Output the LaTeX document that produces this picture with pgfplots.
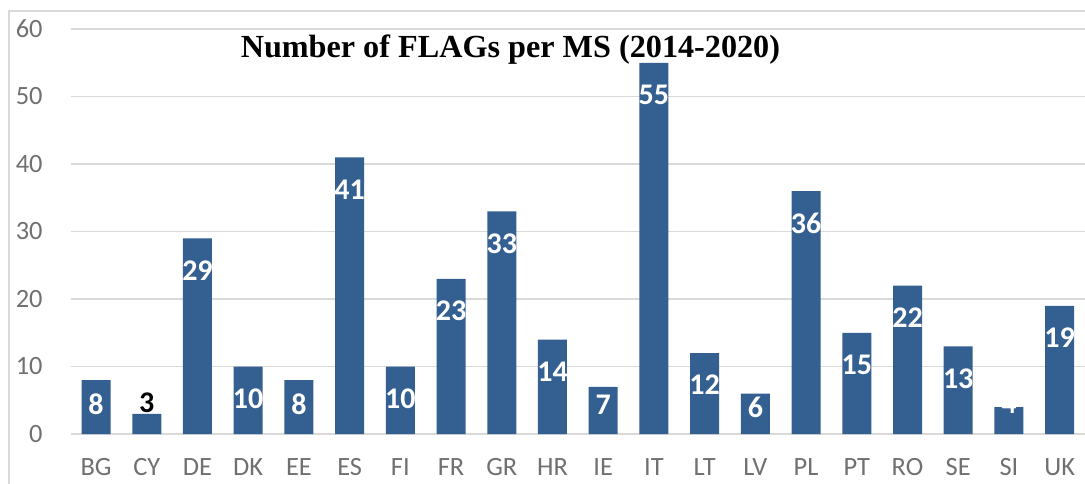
\documentclass[border=0pt]{standalone}
\usepackage{fontspec}
\setmainfont{Carlito}
\newfontfamily\titlefont{Liberation Serif}
\usepackage{pgfplots}
\pgfplotsset{compat=1.18}
\definecolor{barblue}{RGB}{52,95,145}
\definecolor{gridgray}{RGB}{217,217,217}
\definecolor{tickgray}{RGB}{112,112,112}

\begin{document}
\begin{tikzpicture}
\useasboundingbox (-35.35pt,-24.5pt) rectangle (507.15pt,217pt);
\begin{scope}
  \clip (-35.35pt,-24.5pt) rectangle (507.15pt,217pt);
  \draw[gridgray, line width=1pt] (-30.85pt,-60pt) rectangle (560pt,211.5pt);
\end{scope}
\begin{axis}[
    scale only axis, width=507.15pt, height=202.5pt,
    xmin=-0.5, xmax=19.5, ymin=0, ymax=60,
    ytick={0,10,...,60},
    xtick={0,...,19},
    xticklabels={BG,CY,DE,DK,EE,ES,FI,FR,GR,HR,IE,IT,LT,LV,PL,PT,RO,SE,SI,UK},
    axis line style={draw=none}, major tick length=0pt,
    ymajorgrids, grid style={gridgray, line width=0.9pt},
    tick label style={font=\fontsize{13.2}{13.2}\selectfont, text=tickgray},
    /pgf/number format/assume math mode=true,
    xticklabel style={anchor=base, yshift=-20.75pt},
    yticklabel style={anchor=east, inner sep=0pt, xshift=-13.85pt},
    clip=false,
]
\addplot[ybar, bar width=14.5pt, fill=barblue, draw=none] coordinates {
    (0,8) (1,3) (2,29) (3,10) (4,8) (5,41) (6,10) (7,23) (8,33) (9,14)
    (10,7) (11,55) (12,12) (13,6) (14,36) (15,15) (16,22) (17,13) (18,4) (19,19)
};
% value labels, white inside the bars
\addplot[only marks, mark=none, point meta=explicit symbolic, nodes near coords,
    nodes near coords style={font=\bfseries\fontsize{15}{15}\selectfont, text=white, anchor=center, inner sep=0pt}]
    coordinates {
    (0,4.4)[8] (2,24.25)[29] (3,5.25)[10] (4,4.4)[8] (5,36.25)[41] (6,5.25)[10]
    (7,18.25)[23] (8,28.25)[33] (9,9.25)[14] (10,4.3)[7] (11,50.25)[55] (12,7.25)[12]
    (13,4.0)[6] (14,31.25)[36] (15,10.25)[15] (16,17.25)[22] (17,8.25)[13] (18,4.45)[4]
    (19,14.25)[19]
};
\addplot[only marks, mark=none, point meta=explicit symbolic, nodes near coords,
    nodes near coords style={font=\bfseries\fontsize{15}{15}\selectfont, text=black, anchor=center, inner sep=0pt}]
    coordinates {(1,4.6)[3]};
\node[font=\titlefont\bfseries\fontsize{16.1}{16.1}\selectfont] at (axis cs:8.17,57.0)
    {Number of FLAGs per MS (2014-2020)};
\end{axis}
\end{tikzpicture}
\end{document}
